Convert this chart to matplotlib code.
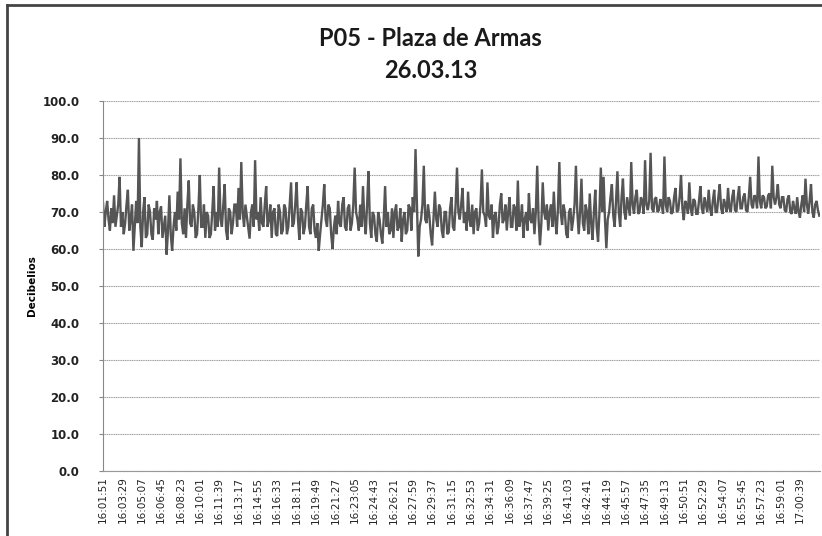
import numpy as np
import matplotlib
matplotlib.use("Agg")
import matplotlib.pyplot as plt
from matplotlib.lines import Line2D

# noise level readings (dB), one every 7 s starting 16:01:51
db_values = [
    72.5, 66, 70, 73, 68, 65, 71, 67, 74.5, 66, 69, 72, 79.5, 66, 70, 64, 67, 72, 76, 65,
    68, 72, 59.5, 66, 73, 67, 90, 66, 60.5, 70, 74, 63, 64, 72, 70, 64, 62.5, 71, 68, 73,
    64, 70, 71.5, 63, 66, 69, 58.5, 65, 74.5, 64, 59.5, 66, 70, 65, 75.5, 68, 84.5, 67, 64, 71,
    63, 72, 78.5, 67, 66, 72, 70, 63, 64, 71, 80, 66, 66, 72, 63, 70, 69, 63, 64, 70,
    77, 65, 70, 66, 82, 68, 66, 72, 77.5, 65, 62.5, 71, 70, 64, 67, 72, 72, 66, 76.5, 68,
    83.5, 70, 66, 72, 69, 66, 62.8, 70, 72, 66, 84, 68, 70, 65, 74, 67, 66, 72, 77, 66,
    68, 72, 63, 70, 71, 64, 63.5, 72, 70, 64, 65, 72, 71, 64, 66, 72, 78, 66, 67, 72,
    78, 68, 62.5, 71, 70, 64, 66, 72, 77, 66, 64, 71, 72, 65, 63, 67, 59.5, 64, 68, 72,
    77.5, 68, 66, 72, 71, 64, 60, 66, 69, 64, 73, 67, 66, 72, 74, 66, 65, 71, 72, 65,
    67, 72, 82, 70, 68, 65, 72, 66, 77, 68, 64, 72, 81, 67, 63, 70, 69, 64, 62, 70,
    68, 64, 61.5, 68, 77, 66, 70, 64, 65, 71, 63, 70, 72, 65, 66, 71, 62, 68, 70, 64,
    65, 72, 71, 65, 74, 70, 87, 72, 58, 66, 68, 72, 82.5, 68, 67, 72, 69, 64, 61, 68,
    75.5, 68, 66, 72, 71, 65, 63, 70, 70, 64, 64.5, 71, 74, 66, 65, 72, 82, 70, 68, 72,
    76.5, 67, 70, 65, 75.5, 68, 66, 72, 64, 70, 71, 65, 67, 72, 81.5, 70, 69, 66, 78, 69,
    68, 72, 63, 69, 70, 64, 66, 72, 75, 67, 68, 72, 65, 70, 74, 66, 66, 72, 71, 65,
    78.5, 66, 68, 72, 63, 68, 70, 65, 75, 68, 67, 71, 64, 70, 82.5, 68, 61, 67, 78, 70,
    68, 72, 65, 70, 72, 66, 75.5, 68, 64, 71, 83.5, 70, 66.5, 72, 70, 64, 63, 70, 71, 65,
    68, 72, 82.5, 70, 64, 70, 79, 67, 65, 72, 70, 64, 75, 67, 62.5, 70, 76, 66, 62, 70,
    82, 70, 79.5, 68, 60.2, 68, 70, 74, 77.5, 69, 66, 73, 81, 70, 66, 74, 79, 70, 68, 74,
    71.5, 69, 83.5, 72, 69.5, 74, 76, 69.5, 70, 74, 73, 69.5, 84, 72, 70.5, 73, 86, 71, 70, 73.5,
    74, 70, 70.5, 73.5, 72, 69.5, 85, 72, 70, 74, 73, 69.5, 70, 74, 76.5, 70, 70.5, 74, 80, 71,
    67.8, 73, 72, 69.5, 78, 71, 69, 73.5, 73, 69.5, 69.5, 73, 77, 71, 69.5, 74, 72, 70, 76, 71,
    69, 73, 76, 70, 70, 74, 77.5, 71, 69.5, 73.5, 72, 70, 76.5, 71, 70, 74, 76, 70.5, 70, 74,
    77, 71, 71, 74, 75, 70.5, 70, 74, 79.5, 72, 71, 74.5, 74, 71, 85, 73, 71, 74.5, 74, 71,
    71.5, 74.5, 75, 71, 82.5, 74, 72, 74, 77.5, 72, 71, 74, 74, 70.5, 70, 73.5, 74.5, 70, 69.5, 73,
    71, 69.5, 74, 70, 68.5, 72, 74.5, 70, 79, 72, 69.5, 73, 77.5, 70, 68.5, 72, 73, 70.5, 69,
]

tick_labels = [
    "16:01:51", "16:03:29", "16:05:07", "16:06:45", "16:08:23", "16:10:01",
    "16:11:39", "16:13:17", "16:14:55", "16:16:33", "16:18:11", "16:19:49",
    "16:21:27", "16:23:05", "16:24:43", "16:26:21", "16:27:59", "16:29:37",
    "16:31:15", "16:32:53", "16:34:31", "16:36:09", "16:37:47", "16:39:25",
    "16:41:03", "16:42:41", "16:44:19", "16:45:57", "16:47:35", "16:49:13",
    "16:50:51", "16:52:29", "16:54:07", "16:55:45", "16:57:23", "16:59:01",
    "17:00:39",
]
points_per_label = 14

fig = plt.figure(figsize=(8.22, 5.36), dpi=100)
ax = fig.add_axes([103 / 822, 1 - 471 / 536, 717 / 822, 370 / 536])

x = np.arange(len(db_values))
ax.plot(x, db_values, color="#555555", lw=1.7, solid_joinstyle="miter")

ax.set_xlim(0, len(db_values) - 0.5)
ax.set_ylim(0, 100)
ax.set_yticks(np.arange(0, 101, 10))
ax.set_yticklabels([f"{v:.1f}" for v in np.arange(0, 101, 10)],
                   fontsize=8.5, fontweight="bold", color="#222222")
ax.set_xticks(np.arange(len(tick_labels)) * points_per_label)
ax.set_xticklabels(tick_labels, rotation=90, fontsize=7.5, color="#222222")

ax.grid(axis="y", color="#9a9a9a", lw=0.8, ls=(0, (1, 0.6)))
ax.set_axisbelow(True)
for side in ["top", "right"]:
    ax.spines[side].set_visible(False)
ax.spines["left"].set_color("#888888")
ax.spines["bottom"].set_color("#999999")
ax.spines["bottom"].set_linestyle((0, (1, 0.6)))
ax.tick_params(axis="y", length=3, color="#888888", pad=14)
ax.tick_params(axis="x", length=0, pad=4)

ax.set_ylabel("Decibelios", fontsize=7.5, fontweight="bold", labelpad=4)

fig.text(0.524, 1 - 38 / 536, "P05 - Plaza de Armas", ha="center", va="center",
         fontsize=17, fontweight="bold", family="Lato", color="#1a1a1a")
fig.text(0.524, 1 - 70 / 536, "26.03.13", ha="center", va="center",
         fontsize=17, fontweight="bold", family="Lato", color="#1a1a1a")

# chart frame (left and top edges of the scanned chart border)
fig.add_artist(Line2D([7 / 822, 7 / 822], [0, 1 - 5 / 536], color="#444444", lw=2))
fig.add_artist(Line2D([7 / 822, 1], [1 - 5 / 536, 1 - 5 / 536], color="#444444", lw=2))

fig.savefig("out.png", dpi=100)
